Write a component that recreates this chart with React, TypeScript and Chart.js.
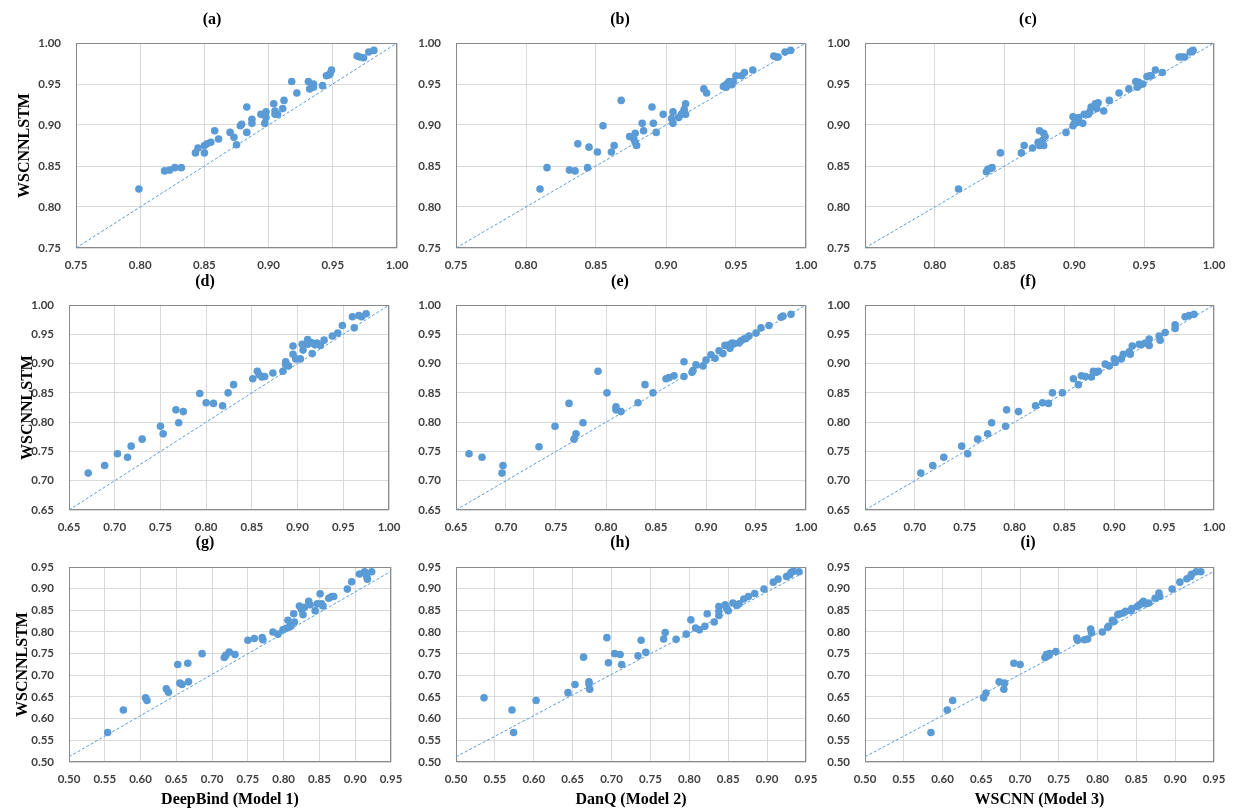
import React, { useEffect, useRef } from 'react';
import { Chart, registerables } from 'chart.js';

Chart.register(...registerables);

// ---------------- data ----------------
const panelTitles = ['(a)', '(b)', '(c)', '(d)', '(e)', '(f)', '(g)', '(h)', '(i)'];
const yAxisTitle = 'WSCNNLSTM';
const xAxisTitles = ['DeepBind (Model 1)', 'DanQ (Model 2)', 'WSCNN (Model 3)'];

const ticksRow1 = [0.75, 0.8, 0.85, 0.9, 0.95, 1.0];
const ticksRow2 = [0.65, 0.7, 0.75, 0.8, 0.85, 0.9, 0.95, 1.0];
const ticksRow3 = [0.5, 0.55, 0.6, 0.65, 0.7, 0.75, 0.8, 0.85, 0.9, 0.95];

const diagRow1X = [0.75, 1.0];
const diagRow1Y = [0.75, 1.0];
const diagRow2X = [0.65, 1.0];
const diagRow2Y = [0.65, 1.0];
const diagRow3X = [0.5, 0.95];
const diagRow3Y = [0.512, 0.94];

const aX = [0.799,0.819,0.823,0.827,0.832,0.843,0.845,0.850,0.850,0.852,0.855,0.858,0.861,0.870,0.873,0.875,0.878,0.879,0.883,0.883,0.887,0.887,0.894,0.897,0.898,0.898,0.904,0.905,0.905,0.907,0.911,0.912,0.918,0.922,0.931,0.932,0.934,0.935,0.935,0.942,0.945,0.947,0.948,0.949,0.969,0.971,0.974,0.978,0.982];
const aY = [0.822,0.844,0.845,0.848,0.848,0.866,0.872,0.866,0.875,0.877,0.879,0.893,0.883,0.891,0.885,0.876,0.899,0.901,0.922,0.891,0.907,0.902,0.913,0.902,0.909,0.916,0.926,0.917,0.913,0.913,0.920,0.930,0.953,0.939,0.953,0.944,0.949,0.946,0.950,0.948,0.960,0.961,0.963,0.967,0.984,0.983,0.982,0.989,0.991];

const bX = [0.810,0.815,0.831,0.835,0.837,0.844,0.845,0.851,0.855,0.861,0.863,0.868,0.874,0.877,0.878,0.879,0.878,0.883,0.884,0.890,0.891,0.893,0.898,0.904,0.905,0.905,0.909,0.911,0.912,0.913,0.914,0.914,0.927,0.929,0.941,0.943,0.944,0.945,0.947,0.948,0.950,0.954,0.956,0.962,0.977,0.979,0.980,0.985,0.989,0.942];
const bY = [0.822,0.848,0.845,0.844,0.877,0.848,0.873,0.867,0.899,0.867,0.875,0.930,0.886,0.883,0.879,0.875,0.890,0.902,0.893,0.922,0.902,0.891,0.913,0.908,0.916,0.902,0.909,0.913,0.915,0.919,0.926,0.913,0.944,0.939,0.947,0.946,0.951,0.953,0.949,0.953,0.960,0.960,0.964,0.967,0.984,0.983,0.983,0.989,0.991,0.948];

const cX = [0.817,0.837,0.838,0.840,0.841,0.847,0.862,0.864,0.870,0.874,0.875,0.875,0.877,0.878,0.878,0.879,0.894,0.899,0.899,0.900,0.902,0.903,0.906,0.907,0.910,0.911,0.912,0.915,0.916,0.917,0.921,0.925,0.932,0.939,0.944,0.945,0.946,0.947,0.949,0.952,0.954,0.955,0.958,0.963,0.975,0.977,0.979,0.983,0.985,0.984];
const cY = [0.822,0.843,0.846,0.847,0.848,0.866,0.866,0.875,0.872,0.879,0.893,0.875,0.881,0.890,0.875,0.886,0.891,0.899,0.910,0.902,0.903,0.909,0.902,0.913,0.913,0.916,0.922,0.926,0.920,0.927,0.917,0.930,0.939,0.944,0.953,0.946,0.952,0.949,0.950,0.959,0.960,0.960,0.967,0.964,0.983,0.983,0.983,0.989,0.991,0.990];

const dX = [0.671,0.689,0.703,0.714,0.718,0.730,0.750,0.753,0.767,0.770,0.775,0.793,0.800,0.808,0.818,0.824,0.830,0.851,0.856,0.858,0.861,0.864,0.873,0.884,0.887,0.887,0.890,0.895,0.895,0.898,0.903,0.905,0.906,0.911,0.911,0.915,0.916,0.919,0.921,0.925,0.929,0.938,0.944,0.949,0.960,0.962,0.967,0.970,0.975];
const dY = [0.713,0.726,0.746,0.740,0.759,0.771,0.793,0.780,0.821,0.799,0.818,0.849,0.833,0.832,0.828,0.850,0.864,0.874,0.887,0.881,0.877,0.878,0.884,0.887,0.903,0.898,0.896,0.930,0.916,0.908,0.908,0.933,0.923,0.941,0.933,0.936,0.917,0.932,0.935,0.931,0.940,0.947,0.952,0.965,0.980,0.961,0.982,0.980,0.985];

const eX = [0.663,0.676,0.696,0.697,0.733,0.749,0.763,0.768,0.770,0.777,0.792,0.801,0.810,0.810,0.815,0.832,0.839,0.847,0.860,0.863,0.868,0.878,0.878,0.886,0.887,0.890,0.897,0.900,0.905,0.909,0.913,0.917,0.919,0.923,0.924,0.926,0.928,0.933,0.935,0.938,0.940,0.943,0.950,0.955,0.963,0.975,0.977,0.985];
const eY = [0.746,0.740,0.713,0.726,0.758,0.793,0.832,0.771,0.780,0.799,0.887,0.850,0.826,0.821,0.818,0.833,0.864,0.850,0.874,0.876,0.879,0.903,0.878,0.885,0.888,0.898,0.896,0.906,0.915,0.909,0.922,0.917,0.931,0.932,0.926,0.935,0.934,0.935,0.939,0.942,0.943,0.947,0.952,0.961,0.965,0.979,0.981,0.984];

const fX = [0.706,0.718,0.729,0.747,0.753,0.763,0.773,0.777,0.791,0.792,0.804,0.821,0.828,0.834,0.838,0.848,0.859,0.864,0.867,0.871,0.877,0.879,0.882,0.884,0.891,0.895,0.900,0.901,0.907,0.909,0.915,0.916,0.918,0.925,0.927,0.931,0.935,0.935,0.945,0.946,0.951,0.961,0.961,0.971,0.975,0.980];
const fY = [0.713,0.726,0.740,0.759,0.746,0.771,0.780,0.799,0.793,0.821,0.818,0.828,0.833,0.832,0.850,0.850,0.874,0.864,0.879,0.878,0.877,0.887,0.885,0.887,0.899,0.896,0.908,0.902,0.908,0.916,0.920,0.916,0.930,0.933,0.932,0.935,0.942,0.931,0.947,0.940,0.953,0.966,0.960,0.980,0.982,0.984];

const gX = [0.554,0.576,0.607,0.609,0.636,0.639,0.652,0.655,0.658,0.666,0.667,0.686,0.717,0.719,0.724,0.732,0.750,0.759,0.770,0.771,0.785,0.792,0.799,0.803,0.807,0.806,0.810,0.814,0.815,0.822,0.825,0.827,0.829,0.835,0.837,0.844,0.847,0.851,0.853,0.855,0.863,0.867,0.870,0.889,0.895,0.906,0.913,0.916,0.917,0.923];
const gY = [0.568,0.620,0.648,0.642,0.669,0.661,0.725,0.682,0.679,0.728,0.685,0.750,0.741,0.746,0.754,0.748,0.781,0.785,0.787,0.782,0.800,0.795,0.805,0.808,0.811,0.827,0.813,0.842,0.823,0.860,0.852,0.840,0.857,0.871,0.863,0.849,0.865,0.888,0.865,0.860,0.878,0.882,0.882,0.899,0.916,0.934,0.939,0.928,0.922,0.939];

const hX = [0.536,0.572,0.574,0.603,0.644,0.653,0.664,0.671,0.671,0.672,0.694,0.696,0.704,0.711,0.713,0.734,0.738,0.744,0.767,0.769,0.783,0.796,0.802,0.808,0.813,0.820,0.823,0.832,0.838,0.838,0.838,0.846,0.848,0.850,0.856,0.861,0.864,0.870,0.876,0.884,0.896,0.908,0.914,0.925,0.929,0.931,0.934,0.941];
const hY = [0.648,0.620,0.568,0.642,0.660,0.679,0.742,0.685,0.680,0.668,0.787,0.729,0.750,0.748,0.725,0.745,0.781,0.753,0.784,0.799,0.783,0.795,0.828,0.809,0.805,0.813,0.842,0.823,0.859,0.848,0.838,0.863,0.855,0.849,0.867,0.861,0.865,0.876,0.882,0.889,0.899,0.915,0.922,0.928,0.932,0.938,0.940,0.939];

const iX = [0.585,0.606,0.613,0.653,0.656,0.673,0.679,0.680,0.692,0.700,0.732,0.734,0.736,0.738,0.746,0.773,0.774,0.783,0.787,0.791,0.792,0.806,0.813,0.814,0.819,0.821,0.826,0.829,0.833,0.836,0.843,0.844,0.851,0.854,0.857,0.859,0.862,0.866,0.874,0.879,0.880,0.896,0.906,0.915,0.920,0.921,0.927,0.933];
const iY = [0.568,0.620,0.642,0.648,0.659,0.685,0.668,0.682,0.728,0.725,0.741,0.748,0.745,0.750,0.755,0.786,0.781,0.782,0.784,0.807,0.798,0.800,0.811,0.813,0.827,0.824,0.840,0.842,0.844,0.848,0.849,0.854,0.859,0.863,0.867,0.871,0.865,0.867,0.878,0.890,0.882,0.899,0.915,0.923,0.928,0.933,0.939,0.939];

// ---------------- layout / style ----------------
const BLUE = '#5b9bd5';
const GRID = '#d9d9d9';
const BORDER = '#898989';
const TICK_COLOR = '#404040';
const TICK_FONT = { family: "Lato, 'Open Sans', sans-serif", size: 11.5, weight: 'bold' as const };
const SERIF_FONT = { family: "'Liberation Serif', 'Times New Roman', serif", size: 16, weight: 'bold' as const };

const ROWS = [
  { T: 0, H: 272, tTop: 10.4, tBot: 13.4, xh: 24, ticks: ticksRow1, dx: diagRow1X, dy: diagRow1Y },
  { T: 272, H: 261, tTop: 0.4, tBot: 13.4, xh: 23, ticks: ticksRow2, dx: diagRow2X, dy: diagRow2Y },
  { T: 533, H: 276, tTop: 0.4, tBot: 14.4, xh: 47, ticks: ticksRow3, dx: diagRow3X, dy: diagRow3Y },
];

const COLS = [
  [
    { L: 0, W: 424, yw: 76, pr: 27, ytPad: 15.4 },
    { L: 412, W: 416, yw: 44, pr: 22, ytPad: 0 },
    { L: 822, W: 412, yw: 43, pr: 20, ytPad: 0 },
  ],
  [
    { L: 0, W: 410, yw: 69, pr: 21, ytPad: 18.4 },
    { L: 412, W: 416, yw: 44, pr: 22, ytPad: 0 },
    { L: 822, W: 412, yw: 43, pr: 20, ytPad: 0 },
  ],
  [
    { L: 0, W: 410, yw: 69, pr: 19, ytPad: 13.4 },
    { L: 412, W: 416, yw: 44, pr: 22, ytPad: 0 },
    { L: 822, W: 412, yw: 43, pr: 20, ytPad: 0 },
  ],
];

const SERIES_X = [aX, bX, cX, dX, eX, fX, gX, hX, iX];
const SERIES_Y = [aY, bY, cY, dY, eY, fY, gY, hY, iY];

const plotBorder = {
  id: 'plotBorder',
  beforeDatasetsDraw(chart: any) {
    const { ctx, chartArea } = chart;
    const l = Math.round(chartArea.left);
    const t = Math.round(chartArea.top);
    const r = Math.round(chartArea.right);
    const b = Math.round(chartArea.bottom);
    ctx.save();
    ctx.strokeStyle = BORDER;
    ctx.lineWidth = 1;
    ctx.strokeRect(l + 0.5, t + 0.5, r - l - 1, b - t - 1);
    ctx.restore();
  },
};

function Panel({ index }: { index: number }) {
  const ref = useRef<HTMLCanvasElement | null>(null);
  const row = Math.floor(index / 3);
  const col = index % 3;
  const R = ROWS[row];
  const C = COLS[row][col];

  useEffect(() => {
    if (!ref.current) return;
    const xs = SERIES_X[index];
    const ys = SERIES_Y[index];
    const pts = xs.map((x, i) => ({ x, y: ys[i] }));
    const diag = R.dx.map((x, i) => ({ x, y: R.dy[i] }));
    const tickVals = R.ticks;
    const min = tickVals[0];
    const max = tickVals[tickVals.length - 1];

    const chart = new Chart(ref.current, {
      type: 'scatter',
      data: {
        datasets: [
          {
            data: pts,
            pointRadius: 3.8,
            pointHoverRadius: 3.8,
            pointBackgroundColor: BLUE,
            pointBorderColor: BLUE,
            pointBorderWidth: 0,
          },
          {
            data: diag,
            showLine: true,
            pointRadius: 0,
            pointHoverRadius: 0,
            borderColor: BLUE,
            borderWidth: 1,
            borderDash: [3, 2],
            fill: false,
          } as any,
        ],
      },
      options: {
        responsive: false,
        animation: false,
        devicePixelRatio: 1,
        events: [],
        layout: { padding: 0 },
        plugins: {
          legend: { display: false },
          tooltip: { enabled: false },
          title: {
            display: true,
            text: panelTitles[index],
            color: '#000',
            font: SERIF_FONT,
            padding: { top: R.tTop, bottom: R.tBot },
          },
        },
        scales: {
          x: {
            type: 'linear',
            min,
            max,
            afterBuildTicks: (s: any) => {
              s.ticks = tickVals.map((v) => ({ value: v }));
            },
            afterFit: (s: any) => {
              s.height = R.xh;
              s.paddingLeft = 0;
              s.paddingRight = 0;
            },
            grid: { color: GRID, lineWidth: 1, drawTicks: false },
            border: { display: false },
            ticks: {
              autoSkip: false,
              maxRotation: 0,
              minRotation: 0,
              padding: 10,
              color: TICK_COLOR,
              font: TICK_FONT,
              callback: (v: any) => Number(v).toFixed(2),
            },
            title: {
              display: row === 2,
              text: xAxisTitles[col],
              color: '#000',
              font: SERIF_FONT,
              padding: { top: 0, bottom: 0 },
            },
          },
          y: {
            type: 'linear',
            position: 'left',
            min,
            max,
            afterBuildTicks: (s: any) => {
              s.ticks = tickVals.map((v) => ({ value: v }));
            },
            afterFit: (s: any) => {
              s.width = C.yw;
              s.paddingTop = 0;
              s.paddingBottom = 0;
            },
            grid: { color: GRID, lineWidth: 1, drawTicks: false },
            border: { display: false },
            ticks: {
              autoSkip: false,
              padding: 15,
              color: TICK_COLOR,
              font: TICK_FONT,
              callback: (v: any) => Number(v).toFixed(2),
            },
            title: {
              display: col === 0,
              text: yAxisTitle,
              color: '#000',
              font: SERIF_FONT,
              padding: { top: C.ytPad, bottom: 0 },
            },
          },
          y2: {
            type: 'linear',
            position: 'right',
            display: true,
            min: 0,
            max: 1,
            afterFit: (s: any) => {
              s.width = C.pr;
              s.paddingTop = 0;
              s.paddingBottom = 0;
            },
            grid: { display: false, drawOnChartArea: false, drawTicks: false },
            border: { display: false },
            ticks: { display: false },
          },
        },
      } as any,
      plugins: [plotBorder],
    });
    return () => chart.destroy();
  }, [index]);

  return (
    <canvas
      ref={ref}
      width={C.W}
      height={R.H}
      style={{ position: 'absolute', left: C.L, top: R.T, width: C.W, height: R.H }}
    />
  );
}

export default function App() {
  return (
    <div
      style={{
        position: 'absolute',
        left: 0,
        top: 0,
        width: 1238,
        height: 809,
        background: '#ffffff',
        overflow: 'hidden',
      }}
    >
      {panelTitles.map((_, i) => (
        <Panel key={i} index={i} />
      ))}
    </div>
  );
}
